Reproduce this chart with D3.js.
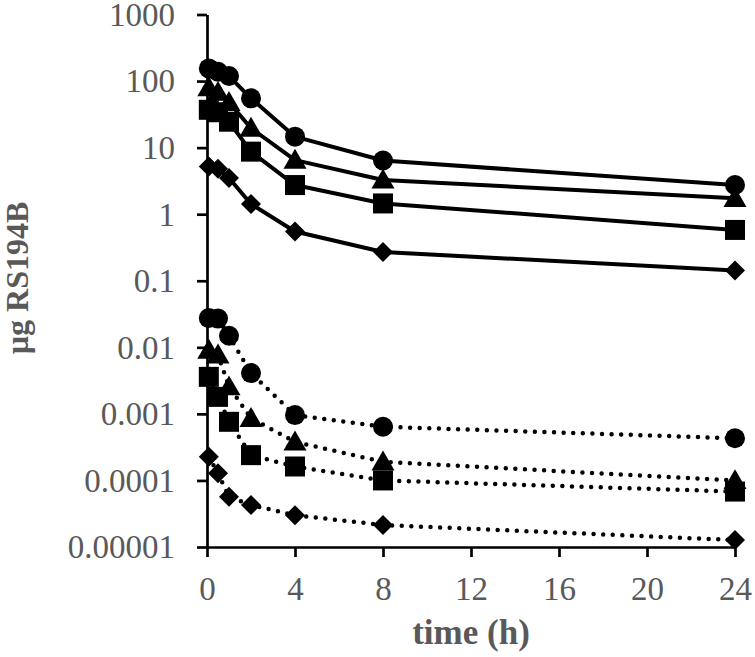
<!DOCTYPE html>
<html><head><meta charset="utf-8">
<script src="https://cdn.jsdelivr.net/npm/d3@7"></script>
<style>html,body{margin:0;padding:0;background:#fff;}</style>
</head><body>
<svg id="chart" width="755" height="657"></svg>
<script>
const times = [0.083, 0.5, 1, 2, 4, 8, 24];
const solidCircle   = [155, 138, 119, 55, 14.6, 6.4, 2.74];
const solidTriangle = [80, 68, 48, 19.6, 6.5, 3.27, 1.73];
const solidSquare   = [37, 34, 24.5, 8.7, 2.74, 1.45, 0.58];
const solidDiamond  = [5.2, 4.8, 3.5, 1.42, 0.55, 0.27, 0.143];
const dottedCircle   = [0.0275, 0.027, 0.0149, 0.0041, 0.00096, 0.00064, 0.00043];
const dottedTriangle = [0.0091, 0.0077, 0.00256, 0.00086, 0.00038, 0.00019, 0.0001];
const dottedSquare   = [0.0036, 0.0018, 0.00076, 0.00024, 0.000162, 0.0001, 0.000068];
const dottedDiamond  = [0.000227, 0.000128, 0.0000569, 0.0000427, 0.00003, 0.0000214, 0.0000127];
const yTickValues = [1000, 100, 10, 1, 0.1, 0.01, 0.001, 0.0001, 0.00001];
const yTickLabels = ["1000", "100", "10", "1", "0.1", "0.01", "0.001", "0.0001", "0.00001"];
const xTickValues = [0, 4, 8, 12, 16, 20, 24];
const xTitle = "time (h)";
const yTitle = "µg RS194B";

const series = [
  {v: solidCircle, shape: "circle", dotted: false},
  {v: solidTriangle, shape: "triangle", dotted: false},
  {v: solidSquare, shape: "square", dotted: false},
  {v: solidDiamond, shape: "diamond", dotted: false},
  {v: dottedCircle, shape: "circle", dotted: true},
  {v: dottedTriangle, shape: "triangle", dotted: true},
  {v: dottedSquare, shape: "square", dotted: true},
  {v: dottedDiamond, shape: "diamond", dotted: true}
];

const svg = d3.select("#chart");
const x = d3.scaleLinear().domain([0, 24]).range([207, 735]);
const y = d3.scaleLog().domain([1e-5, 1e3]).range([547, 14.5]);
const font = "'Liberation Serif', 'Times New Roman', serif";
const grey = "#595959";

// axes
const yAxis = svg.append("g").attr("transform", `translate(${x(0)},0)`)
  .call(d3.axisLeft(y).tickValues(yTickValues)
    .tickFormat((d, i) => yTickLabels[i]).tickSize(10).tickSizeOuter(0).tickPadding(22));
const xAxis = svg.append("g").attr("transform", `translate(0,${y(1e-5)})`)
  .call(d3.axisBottom(x).tickValues(xTickValues).tickSize(10).tickSizeOuter(0).tickPadding(20));
[xAxis, yAxis].forEach(g => {
  g.select(".domain").attr("stroke", "#000").attr("stroke-width", 2.7);
  g.selectAll(".tick line").attr("stroke", "#000").attr("stroke-width", 2.7);
  g.selectAll(".tick text").attr("fill", grey).style("font-family", font).style("font-size", "33px");
});
yAxis.selectAll(".tick text").attr("dy", "0.33em");
xAxis.selectAll(".tick text").attr("dy", "0.71em");

// lines
const line = d3.line().x((d, i) => x(times[i])).y(d => y(d));
series.forEach(s => {
  const p = svg.append("path").datum(s.v).attr("d", line)
    .attr("fill", "none").attr("stroke", "#000");
  if (s.dotted) {
    p.attr("stroke-width", 4.5).attr("stroke-dasharray", "0 9.6").attr("stroke-linecap", "round");
  } else {
    p.attr("stroke-width", 4).attr("stroke-linejoin", "round");
  }
});

// markers
const sym = {
  circle: d3.symbol().type(d3.symbolCircle).size(Math.PI * 100),
  square: d3.symbol().type(d3.symbolSquare).size(400),
  diamond: d3.symbol().type(d3.symbolSquare).size(200),
  triangle: d3.symbol().type(d3.symbolTriangle).size(230)
};
series.forEach(s => {
  svg.append("g").selectAll("path").data(s.v).join("path")
    .attr("d", sym[s.shape]())
    .attr("transform", (d, i) => {
      let t = `translate(${x(times[i])},${y(d) + (s.shape === "triangle" ? 2 : 0)})`;
      if (s.shape === "diamond") t += " rotate(45)";
      return t;
    })
    .attr("fill", "#000");
});

// titles
svg.append("text").attr("x", (x(0) + x(24)) / 2).attr("y", 644)
  .attr("text-anchor", "middle").attr("fill", grey)
  .style("font-family", font).style("font-size", "35px").style("font-weight", "bold")
  .text(xTitle);
svg.append("text").attr("transform", "translate(28,278) rotate(-90)")
  .attr("text-anchor", "middle").attr("fill", grey)
  .style("font-family", font).style("font-size", "32px").style("font-weight", "bold")
  .text(yTitle);
</script>
</body></html>
